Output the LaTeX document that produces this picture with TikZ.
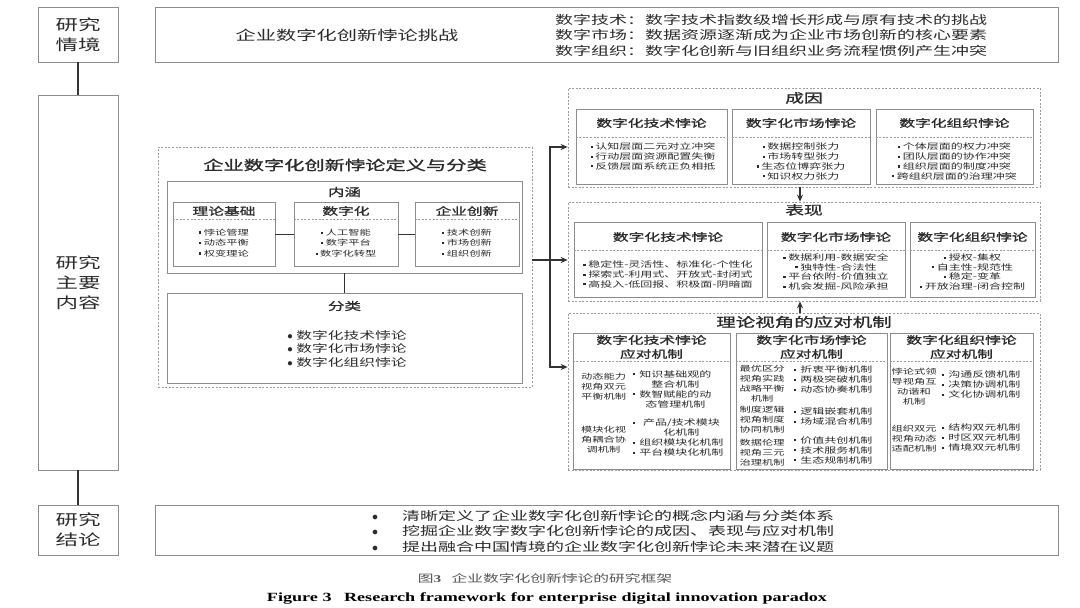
\documentclass[tikz,border=0pt]{standalone}
\usepackage{fontspec}
\setmainfont{Noto Sans CJK SC}[FakeStretch=1.5]
\newfontfamily\hfont{Noto Sans CJK SC}[FakeStretch=1.5, FakeBold=1.2]
\newfontfamily\enfont{Liberation Serif}[FakeStretch=1.45]
\usepackage{tikz}
\usetikzlibrary{arrows.meta,positioning}
\definecolor{boxgray}{HTML}{8C8C8C}
\definecolor{ink}{HTML}{2B2B2B}
\definecolor{linegray}{HTML}{333333}
\newcommand{\sq}{\rule[0.22em]{2.2pt}{2.2pt}}

\begin{document}
\begin{tikzpicture}[x=1pt, y=-1pt,
    box/.style={draw=boxgray, line width=0.8pt, inner sep=0pt},
    dbox/.style={draw=boxgray!85, line width=0.7pt, dash pattern=on 2pt off 1.6pt, inner sep=0pt},
    sepline/.style={draw=boxgray!85, line width=0.6pt, dash pattern=on 2pt off 1.6pt},
    link/.style={draw=linegray, line width=1.3pt},
    arr/.style={draw=linegray, line width=1.2pt, -{Stealth[length=7pt,width=6pt]}},
    txt/.style={text=ink, inner sep=0pt},
    side/.style={txt, align=center, font=\fontsize{15}{20}\selectfont},
    bigtxt/.style={txt, font=\fontsize{13.5}{17}\selectfont},
    midtxt/.style={txt, align=left, font=\fontsize{12}{15.5}\selectfont},
    sectxt/.style={txt, font=\hfont\fontsize{12.5}{16}\selectfont},
    hdr/.style={txt, align=center, font=\hfont\fontsize{10.5}{14}\selectfont},
    hdrs/.style={txt, font=\hfont\fontsize{11}{14}\selectfont},
    lst/.style={txt, align=center, font=\fontsize{7.5}{10.5}\selectfont},
    lstl/.style={txt, align=left, font=\fontsize{8}{9.7}\selectfont},
    lstc/.style={txt, align=center, font=\fontsize{8}{9.7}\selectfont},
    kind/.style={txt, align=left, font=\fontsize{10.5}{13.5}\selectfont},
    lbl/.style={txt, align=center, font=\fontsize{7.5}{10}\selectfont},
    mech/.style={txt, anchor=west, font=\fontsize{8}{10}\selectfont},
  ]
  \fill[white] (0,0) rectangle (1080,608);
  \useasboundingbox (0,0) rectangle (1080,608);

  % left column
  \node[box, side, minimum width=80, minimum height=55] (ctx) at (78,34.5) {研究\\情境};
  \node[box, side, minimum width=80, minimum height=375] (main) at (78,282.5) {研究\\主要\\内容};
  \node[box, side, minimum width=80, minimum height=50] (concl) at (78,530) {研究\\结论};
  \draw[link] (ctx) -- (main);
  \draw[link] (main) -- (concl);

  % challenge
  \node[box, minimum width=903, minimum height=55] (chal) at (606.5,34.5) {};
  \node[bigtxt] (chalT) at (347,35) {企业数字化创新悖论挑战};
  \node[midtxt, anchor=west] (chalL) at (555,35) {数字技术：数字技术指数级增长形成与原有技术的挑战\\
    数字市场：数据资源逐渐成为企业市场创新的核心要素\\
    数字组织：数字化创新与旧组织业务流程惯例产生冲突};

  % definition and classification
  \node[dbox, minimum width=374, minimum height=240] (def) at (345,267) {};
  \node[txt, font=\hfont\fontsize{13.5}{17}\selectfont] (defT) at (345,165) {企业数字化创新悖论定义与分类};
  \node[box, minimum width=355, minimum height=92] (conn) at (344.5,227) {};
  \node[hdrs] (connT) at (344.5,192) {内涵};
  \node[box, minimum width=102, minimum height=64] (theo) at (224,234) {};
  \node[box, minimum width=104, minimum height=64] (digi) at (346,234) {};
  \node[box, minimum width=104, minimum height=64] (innov) at (467,234) {};
  \node[hdr] (theoT) at (224,211) {理论基础};
  \node[hdr] (digiT) at (346,211) {数字化};
  \node[hdr] (innovT) at (467,211) {企业创新};
  \draw[sepline] (theo.west |- 0,219) -- (theo.east |- 0,219);
  \draw[sepline] (digi.west |- 0,219) -- (digi.east |- 0,219);
  \draw[sepline] (innov.west |- 0,219) -- (innov.east |- 0,219);
  \node[lst] (theoL) at (224,243) {\sq\ 悖论管理\\\sq\ 动态平衡\\\sq\ 权变理论};
  \node[lst] (digiL) at (346,243) {\sq\ 人工智能\\\sq\ 数字平台\\\sq\ 数字化转型};
  \node[lst] (innovL) at (467,243) {\sq\ 技术创新\\\sq\ 市场创新\\\sq\ 组织创新};
  \draw[link, line width=1pt] (theo) -- (digi);
  \draw[link, line width=1pt] (digi) -- (innov);

  \node[box, minimum width=355, minimum height=90] (clsbox) at (344.5,338) {};
  \node[hdrs] (clsT) at (344.5,306) {分类};
  \node[kind] (clsL) at (347,348.5) {$\bullet$ 数字化技术悖论\\$\bullet$ 数字化市场悖论\\$\bullet$ 数字化组织悖论};
  \draw[link, line width=1pt] (conn) -- (clsbox);

  % causes
  \node[dbox, minimum width=472, minimum height=99] (cau) at (804,137.5) {};
  \node[sectxt] (cauT) at (804,98) {成因};
  \node[box, minimum width=151, minimum height=75] (cau1) at (651.5,146.5) {};
  \node[box, minimum width=138, minimum height=75] (cau2) at (801,146.5) {};
  \node[box, minimum width=157, minimum height=75] (cau3) at (954.5,146.5) {};
  \node[hdr] (cau1T) at (651.5,123) {数字化技术悖论};
  \node[hdr] (cau2T) at (801,123) {数字化市场悖论};
  \node[hdr] (cau3T) at (954.5,123) {数字化组织悖论};
  \draw[sepline] (cau1.west |- 0,137) -- (cau1.east |- 0,137);
  \draw[sepline] (cau2.west |- 0,137) -- (cau2.east |- 0,137);
  \draw[sepline] (cau3.west |- 0,137) -- (cau3.east |- 0,137);
  \node[lstl] (cau1L) at (653,156.5) {\sq\ 认知层面二元对立冲突\\\sq\ 行动层面资源配置失衡\\\sq\ 反馈层面系统正负相抵};
  \node[lstc] (cau2L) at (801,161.5) {\sq\ 数据控制张力\\\sq\ 市场转型张力\\\sq\ 生态位博弈张力\\\sq\ 知识权力张力};
  \node[lstc] (cau3L) at (954.5,161.5) {\sq\ 个体层面的权力冲突\\\sq\ 团队层面的协作冲突\\\sq\ 组织层面的制度冲突\\\sq\ 跨组织层面的治理冲突};

  % manifestations
  \node[dbox, minimum width=472, minimum height=99] (per) at (804,251.5) {};
  \node[sectxt] (perT) at (804,210) {表现};
  \node[box, minimum width=188, minimum height=75] (per1) at (668,259.5) {};
  \node[box, minimum width=138, minimum height=75] (per2) at (836,259.5) {};
  \node[box, minimum width=125, minimum height=75] (per3) at (972.5,259.5) {};
  \node[hdr] (per1T) at (668,237) {数字化技术悖论};
  \node[hdr] (per2T) at (836,237) {数字化市场悖论};
  \node[hdr] (per3T) at (972.5,237) {数字化组织悖论};
  \draw[sepline] (per1.west |- 0,250) -- (per1.east |- 0,250);
  \draw[sepline] (per2.west |- 0,250) -- (per2.east |- 0,250);
  \draw[sepline] (per3.west |- 0,250) -- (per3.east |- 0,250);
  \node[lstl] (per1L) at (668,274.5) {\sq\ 稳定性-灵活性、标准化-个性化\\\sq\ 探索式-利用式、开放式-封闭式\\\sq\ 高投入-低回报、积极面-阴暗面};
  \node[lstc] (per2L) at (836,272) {\sq\ 数据利用-数据安全\\\sq\ 独特性-合法性\\\sq\ 平台依附-价值独立\\\sq\ 机会发掘-风险承担};
  \node[lstc] (per3L) at (972.5,272) {\sq\ 授权-集权\\\sq\ 自主性-规范性\\\sq\ 稳定-变革\\\sq\ 开放治理-闭合控制};

  % coping mechanisms
  \node[dbox, minimum width=472, minimum height=157] (cop) at (804,391.5) {};
  \node[txt, font=\hfont\fontsize{13}{16}\selectfont] (copT) at (804,322) {理论视角的应对机制};
  \node[box, minimum width=157, minimum height=136] (cop1) at (651.5,401) {};
  \node[box, minimum width=151, minimum height=136] (cop2) at (811.5,401) {};
  \node[box, minimum width=143, minimum height=136] (cop3) at (961.5,401) {};
  \node[hdr] (cop1T) at (651.5,347) {数字化技术悖论\\应对机制};
  \node[hdr] (cop2T) at (811.5,347) {数字化市场悖论\\应对机制};
  \node[hdr] (cop3T) at (961.5,347) {数字化组织悖论\\应对机制};
  \draw[sepline] (cop1.west |- 0,361) -- (cop1.east |- 0,361);
  \draw[sepline] (cop2.west |- 0,361) -- (cop2.east |- 0,361);
  \draw[sepline] (cop3.west |- 0,361) -- (cop3.east |- 0,361);

  \node[lbl] (cop1a) at (603.5,387) {动态能力\\视角双元\\平衡机制};
  \node[mech] (cop1aL) at (633,390) {\begin{tabular}{@{}c@{\hspace{4pt}}c@{}}\sq & 知识基础观的\\ & 整合机制\\ \sq & 数智赋能的动\\ & 态管理机制\end{tabular}};
  \node[lbl] (cop1b) at (603.5,440) {模块化视\\角耦合协\\调机制};
  \node[mech] (cop1bL) at (633,438.5) {\begin{tabular}{@{}c@{\hspace{4pt}}c@{}}\sq & 产品/技术模块\\ & 化机制\\ \sq & 组织模块化机制\\ \sq & 平台模块化机制\end{tabular}};

  \node[lbl] (cop2a) at (762,384) {最优区分\\视角实践\\战略平衡\\机制};
  \node[mech] (cop2aL) at (794,380.5) {\begin{tabular}{@{}c@{\hspace{4pt}}c@{}}\sq & 折衷平衡机制\\ \sq & 两极突破机制\\ \sq & 动态协奏机制\end{tabular}};
  \node[lbl] (cop2b) at (762,420) {制度逻辑\\视角制度\\协同机制};
  \node[mech] (cop2bL) at (794,417.5) {\begin{tabular}{@{}c@{\hspace{4pt}}c@{}}\sq & 逻辑嵌套机制\\ \sq & 场域混合机制\end{tabular}};
  \node[lbl] (cop2c) at (762,453) {数据伦理\\视角三元\\治理机制};
  \node[mech] (cop2cL) at (794,451) {\begin{tabular}{@{}c@{\hspace{4pt}}c@{}}\sq & 价值共创机制\\ \sq & 技术服务机制\\ \sq & 生态规制机制\end{tabular}};

  \node[lbl] (cop3a) at (914,387) {悖论式领\\导视角互\\动谐和\\机制};
  \node[mech] (cop3aL) at (942,385.5) {\begin{tabular}{@{}c@{\hspace{4pt}}c@{}}\sq & 沟通反馈机制\\ \sq & 决策协调机制\\ \sq & 文化协调机制\end{tabular}};
  \node[lbl] (cop3b) at (914,439) {组织双元\\视角动态\\适配机制};
  \node[mech] (cop3bL) at (942,438.5) {\begin{tabular}{@{}c@{\hspace{4pt}}c@{}}\sq & 结构双元机制\\ \sq & 时区双元机制\\ \sq & 情境双元机制\end{tabular}};

  % connectors
  \coordinate (jn) at (550,260);
  \draw[arr] (def.east |- jn) -- ([yshift=-8.5pt]per.west);
  \draw[arr] (jn) |- ([yshift=-9.5pt]cau.west);
  \draw[arr] (jn) |- ([yshift=24.5pt]cop.west);
  \draw[arr] ([xshift=-4pt]cau.south) -- ([xshift=-4pt]per.north);
  \draw[arr] ([xshift=-4pt]cop.north) -- ([xshift=-4pt]per.south);

  % conclusions
  \node[box, minimum width=903, minimum height=50] (res) at (606.5,530) {};
  \node[midtxt, anchor=west] (resL) at (372,531) {$\bullet$\hspace{24pt}清晰定义了企业数字化创新悖论的概念内涵与分类体系\\
    $\bullet$\hspace{24pt}挖掘企业数字数字化创新悖论的成因、表现与应对机制\\
    $\bullet$\hspace{24pt}提出融合中国情境的企业数字化创新悖论未来潜在议题};

  % caption
  \node[txt, text=ink!80, font=\fontsize{10.5}{13}\selectfont] (capCn) at (545,578) {图{\enfont\bfseries 3}\quad 企业数字化创新悖论的研究框架};
  \node[txt, text=black, font=\enfont\fontsize{12.5}{14}\selectfont\bfseries] (capEn) at (547,598) {Figure 3\quad Research framework for enterprise digital innovation paradox};
\end{tikzpicture}
\end{document}
